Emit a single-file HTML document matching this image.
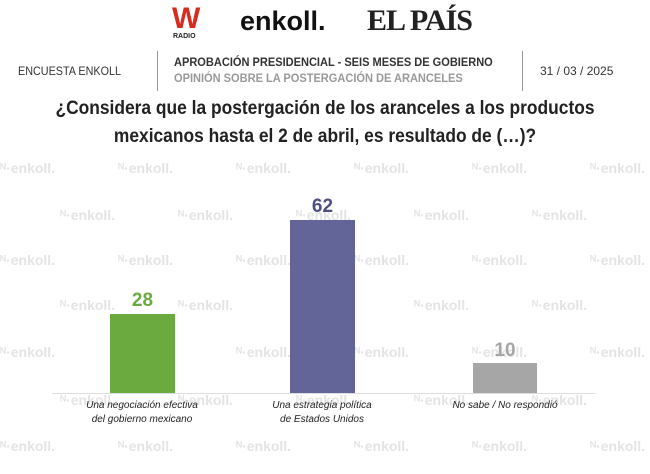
<!DOCTYPE html><html><head><meta charset="utf-8"><style>
body{margin:0;width:650px;height:474px;background:#fff;position:relative;overflow:hidden;font-family:"Liberation Sans",sans-serif}
.a{position:absolute;white-space:nowrap}
.wm{position:absolute;color:#e4e4e4;font-weight:bold;font-size:14px}
</style></head><body>
<div class="a" style="left:172px;top:2px;font-size:30px;font-weight:bold;color:#d62b1f">W</div>
<div class="a" style="left:173px;top:33px;font-size:7px;font-weight:bold;color:#222">RADIO</div>
<div class="a" style="left:240px;top:6px;font-size:27px;font-weight:bold;color:#111">enkoll.</div>
<div class="a" style="left:367px;top:4px;font-size:30px;font-weight:bold;color:#222;font-family:'Liberation Serif',serif;letter-spacing:-1px">EL PAÍS</div>
<div class="a" style="left:157px;top:51px;width:1px;height:40px;background:#999"></div>
<div class="a" style="left:522px;top:51px;width:1px;height:40px;background:#999"></div>
<div class="a" style="left:18px;top:64px;font-size:12px;color:#333;transform:scaleX(0.9);transform-origin:left">ENCUESTA ENKOLL</div>
<div class="a" style="left:174px;top:55px;font-size:12px;font-weight:bold;color:#333;transform:scaleX(0.92);transform-origin:left">APROBACIÓN PRESIDENCIAL - SEIS MESES DE GOBIERNO</div>
<div class="a" style="left:174px;top:71px;font-size:12px;font-weight:bold;color:#999;transform:scaleX(0.92);transform-origin:left">OPINIÓN SOBRE LA POSTERGACIÓN DE ARANCELES</div>
<div class="a" style="left:540px;top:64px;font-size:12px;color:#333">31 / 03 / 2025</div>
<div class="a" style="left:0;width:650px;top:95px;text-align:center;font-size:19px;font-weight:bold;color:#222;line-height:28px;transform:scaleX(0.915);transform-origin:center">¿Considera que la postergación de los aranceles a los productos<br>mexicanos hasta el 2 de abril, es resultado de (…)?</div>
<div id="w"></div>
<div class="a" style="left:52px;top:393px;width:543px;height:1px;background:#ddd"></div>
<div class="a" style="left:110px;top:314px;width:65px;height:79px;background:#6aaa3f"></div>
<div class="a" style="left:290px;top:220px;width:65px;height:173px;background:#636497"></div>
<div class="a" style="left:473px;top:363px;width:64px;height:30px;background:#a6a6a6"></div>
<div class="a" style="left:110px;width:65px;top:290px;text-align:center;font-size:19px;font-weight:bold;color:#6aaa3f">28</div>
<div class="a" style="left:290px;width:65px;top:196px;text-align:center;font-size:19px;font-weight:bold;color:#4f5080">62</div>
<div class="a" style="left:473px;width:64px;top:340px;text-align:center;font-size:19px;font-weight:bold;color:#a6a6a6">10</div>
<div class="a" style="left:42px;width:200px;top:399px;text-align:center;font-size:10px;font-style:italic;color:#222;line-height:14px">Una negociación efectiva<br>del gobierno mexicano</div>
<div class="a" style="left:222px;width:200px;top:399px;text-align:center;font-size:10px;font-style:italic;color:#222;line-height:14px">Una estrategia política<br>de Estados Unidos</div>
<div class="a" style="left:405px;width:200px;top:399px;text-align:center;font-size:10px;font-style:italic;color:#222;line-height:14px">No sabe / No respondió</div>
<script>
var h='',rows=[[160,0],[207,60],[252,0],[297,60],[344,0],[392,60],[438,0]];
rows.forEach(function(r){for(var x=r[1];x<650;x+=118){h+='<div class="wm" style="left:'+x+'px;top:'+r[0]+'px">ᴺ·enkoll.</div>';}});
document.getElementById('w').innerHTML=h;
</script>
</body></html>
